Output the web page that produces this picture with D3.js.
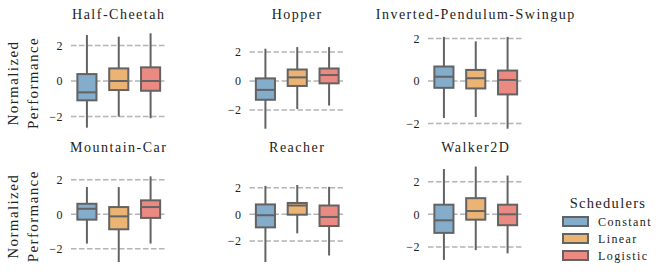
<!DOCTYPE html>
<html>
<head>
<meta charset="utf-8">
<script src="https://cdn.jsdelivr.net/npm/d3@7"></script>
<style>
  body { margin: 0; background: #fff; }
  svg text { font-family: "Liberation Serif", serif; fill: #222; }
</style>
</head>
<body>
<div id="chart"></div>
<script>
// environments (panel order) and schedulers (box order)
const envs = ['Half-Cheetah', 'Hopper', 'Inverted-Pendulum-Swingup', 'Mountain-Car', 'Reacher', 'Walker2D'];
const schedulers = ['Constant', 'Linear', 'Logistic'];
const colors = ['#84accb', '#ebb474', '#ea8a82'];
const yTicks = [-2, 0, 2];

// box stats per env: [whisker low, q1, median, q3, whisker high]
const constantStats = [
  [-2.63, -1.09, -0.64, 0.39, 2.59],
  [-3.28, -1.29, -0.61, 0.18, 2.22],
  [-1.74, -0.32, 0.20, 0.68, 2.07],
  [-1.70, -0.31, 0.32, 0.61, 1.58],
  [-3.58, -0.98, -0.07, 0.74, 2.13],
  [-2.80, -1.14, -0.37, 0.59, 2.78]
];
const linearStats = [
  [-2.01, -0.51, 0.00, 0.71, 2.50],
  [-1.92, -0.34, 0.25, 0.79, 2.33],
  [-1.69, -0.35, 0.13, 0.52, 1.86],
  [-2.77, -0.87, -0.12, 0.42, 1.58],
  [-1.43, -0.03, 0.66, 0.85, 2.20],
  [-2.20, -0.33, 0.20, 0.99, 2.93]
];
const logisticStats = [
  [-2.10, -0.55, 0.00, 0.77, 2.69],
  [-1.69, -0.16, 0.41, 0.86, 2.33],
  [-2.24, -0.63, 0.05, 0.49, 2.07],
  [-1.70, -0.21, 0.42, 0.81, 2.20],
  [-3.09, -0.88, -0.20, 0.66, 2.06],
  [-2.40, -0.67, 0.00, 0.59, 2.38]
];

const allStats = [constantStats, linearStats, logisticStats];

const width = 665, height = 274;
const colLeft = [71, 249.5, 428];
const rowTop = [28.5, 161.8];
const panelW = 95.5, panelH = 105;
const lineColor = '#636363';

const svg = d3.select('#chart').append('svg')
    .attr('width', width)
    .attr('height', height);

envs.forEach((env, i) => {
  const col = i % 3, row = Math.floor(i / 3);
  const g = svg.append('g')
      .attr('transform', `translate(${colLeft[col]},${rowTop[row]})`);

  const boxes = schedulers.map((s, k) => {
    const st = allStats[k][i];
    return {name: s, color: colors[k], lo: st[0], q1: st[1], med: st[2], q3: st[3], hi: st[4]};
  });

  // symmetric y-limits around zero
  const lim = 1.1 * d3.max(boxes, d => Math.max(Math.abs(d.lo), Math.abs(d.hi)));
  const y = d3.scaleLinear().domain([-lim, lim]).range([panelH, 0]);
  const x = d3.scalePoint().domain(schedulers).range([0, panelW]).padding(0.5);
  const boxW = x.step() * 0.6;

  // dashed grid at ticks
  g.selectAll('.grid')
    .data(yTicks)
    .join('line')
      .attr('class', 'grid')
      .attr('x1', 0).attr('x2', panelW)
      .attr('y1', d => y(d)).attr('y2', d => y(d))
      .attr('stroke', '#b4b4b4')
      .attr('stroke-width', 1.5)
      .attr('stroke-dasharray', '5.5,2.5');

  const yAxis = d3.axisLeft(y).tickValues(yTicks).tickFormat(d3.format('d'))
      .tickSize(0).tickPadding(8);
  const ya = g.append('g').call(yAxis);
  ya.select('.domain').remove();
  ya.selectAll('text')
      .style('font-family', '"Liberation Serif", serif')
      .style('font-size', '12px')
      .style('letter-spacing', '0.5px')
      .attr('fill', '#222');

  const bg = g.selectAll('.box')
    .data(boxes)
    .join('g')
      .attr('class', 'box');

  bg.append('line')
      .attr('x1', d => x(d.name)).attr('x2', d => x(d.name))
      .attr('y1', d => y(d.hi)).attr('y2', d => y(d.q3))
      .attr('stroke', lineColor).attr('stroke-width', 2);
  bg.append('line')
      .attr('x1', d => x(d.name)).attr('x2', d => x(d.name))
      .attr('y1', d => y(d.q1)).attr('y2', d => y(d.lo))
      .attr('stroke', lineColor).attr('stroke-width', 2);
  bg.append('rect')
      .attr('x', d => x(d.name) - boxW / 2)
      .attr('width', boxW)
      .attr('y', d => y(d.q3))
      .attr('height', d => y(d.q1) - y(d.q3))
      .attr('fill', d => d.color)
      .attr('stroke', lineColor).attr('stroke-width', 2);
  bg.append('line')
      .attr('x1', d => x(d.name) - boxW / 2).attr('x2', d => x(d.name) + boxW / 2)
      .attr('y1', d => y(d.med)).attr('y2', d => y(d.med))
      .attr('stroke', lineColor).attr('stroke-width', 2);

  g.append('text')
      .attr('x', panelW / 2)
      .attr('y', -9.5)
      .attr('text-anchor', 'middle')
      .style('font-size', '14px')
      .style('letter-spacing', '1.5px')
      .text(env);

  if (col === 0) {
    const lab = g.append('text')
        .attr('transform', `translate(-53,${panelH / 2 + 2}) rotate(-90)`)
        .attr('text-anchor', 'middle')
        .style('font-size', '15px')
        .style('letter-spacing', '1.4px');
    lab.append('tspan').attr('x', 0).attr('dy', 0).text('Normalized');
    lab.append('tspan').attr('x', 0).attr('dy', 20).text('Performance');
  }
});

// legend
const legend = svg.append('g').attr('transform', 'translate(563,208)');
legend.append('text')
    .attr('x', 45)
    .attr('y', 0)
    .attr('text-anchor', 'middle')
    .style('font-size', '14.5px')
    .style('letter-spacing', '1.3px')
    .text('Schedulers');

const items = legend.selectAll('.item')
  .data(schedulers)
  .join('g')
    .attr('class', 'item')
    .attr('transform', (d, k) => `translate(0,${9 + k * 17})`);

items.append('rect')
    .attr('width', 25).attr('height', 9)
    .attr('fill', (d, k) => colors[k])
    .attr('stroke', lineColor).attr('stroke-width', 2);
items.append('text')
    .attr('x', 35)
    .attr('y', 8.5)
    .style('font-size', '12px')
    .style('letter-spacing', '1.4px')
    .text(d => d);
</script>
</body>
</html>
